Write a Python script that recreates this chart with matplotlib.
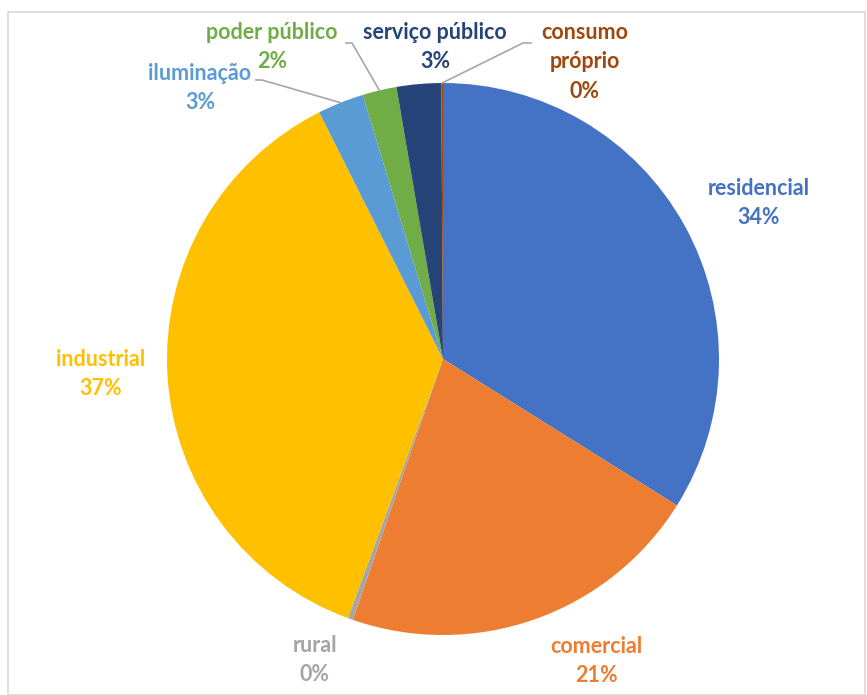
import numpy as np
import matplotlib.pyplot as plt
from matplotlib.patches import Rectangle

# ---------------------------
# DATA
# ---------------------------
categories = ["residencial", "comercial", "rural", "industrial",
              "iluminação", "poder público", "serviço público", "consumo próprio"]
shares = [33.9, 21.4, 0.3, 37.0, 2.7, 2.0, 2.6, 0.1]
label_text = ["residencial", "comercial", "rural", "industrial",
              "iluminação", "poder público", "serviço público", "consumo\npróprio"]

colors = ["#4472C4", "#ED7D31", "#A5A5A5", "#FFC000",
          "#5B9BD5", "#70AD47", "#264478", "#9E480E"]

# label block centres in pixels (x, y from top)
label_pos = [(759, 203), (596, 661), (315, 660), (101, 374),
             (200, 88), (272, 47), (435, 47), (585, 62)]
# leader line start points (None = no leader)
leader_start = [None, None, None, None,
                [(256, 80), (262, 80)], [(346, 43), (352, 43)],
                None, [(531, 43), (523, 43)]]

W, H = 867, 695
CX, CY, R = 443, 359, 276

plt.rcParams["font.family"] = ["Lato", "DejaVu Sans"]

fig = plt.figure(figsize=(W / 100, H / 100), dpi=100)
ax = fig.add_axes([0, 0, 1, 1])

wedges, _ = ax.pie(shares, colors=colors, startangle=90, counterclock=False,
                   radius=R, center=(CX, H - CY), frame=True,
                   wedgeprops=dict(linewidth=0))

ax.set_xlim(0, W)
ax.set_ylim(0, H)
ax.set_aspect("auto")
ax.axis("off")

# chart border
ax.add_patch(Rectangle((8, 0), W - 10, H - 12, fill=False,
                       edgecolor="#D9D9D9", linewidth=1.2))

total = sum(shares)
for i, w in enumerate(wedges):
    pct = int(shares[i] / total * 100 + 0.5)
    x, y = label_pos[i]
    ax.text(x, H - y, f"{label_text[i]}\n{pct}%", ha="center", va="center",
            fontsize=15.5, fontweight="bold", color=colors[i], linespacing=1.5)
    if leader_start[i] is not None:
        mid = np.deg2rad((w.theta1 + w.theta2) / 2)
        ex = CX + R * np.cos(mid)
        ey = (H - CY) + R * np.sin(mid)
        xs = [p[0] for p in leader_start[i]] + [ex]
        ys = [H - p[1] for p in leader_start[i]] + [ey]
        ax.plot(xs, ys, color="#A6A6A6", linewidth=1.2)

fig.savefig("out.png", dpi=100)
